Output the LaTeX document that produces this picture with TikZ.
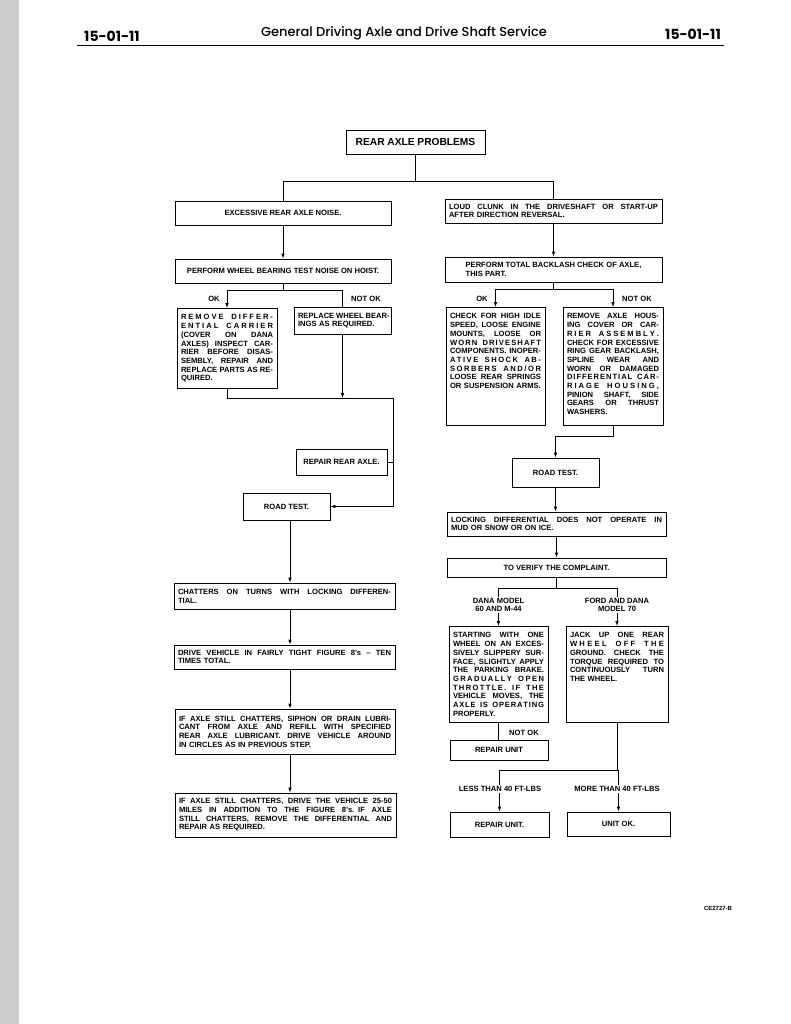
\documentclass[tikz,border=0pt]{standalone}
\usepackage{fontspec}
\setmainfont{Liberation Sans}
\newfontfamily\hdrfont{Poppins}[UprightFont=* Medium, BoldFont=* Bold]
\usetikzlibrary{arrows.meta}

\newlength{\jw}
\newcommand{\bx}{\bfseries\fontsize{7.6}{8.7}\selectfont}
% word-justified line
\newcommand{\jl}[1]{\leavevmode\hbox to \jw{\spaceskip=0.25em plus 1fil\relax #1}}
% letter-spaced justified line
\ExplSyntaxOn
\seq_new:N \l__rs_words_seq
\bool_new:N \l__rs_firstw_bool
\bool_new:N \l__rs_firstl_bool
\cs_new_protected:Npn \__rs_word:n #1
  {
    \bool_set_true:N \l__rs_firstl_bool
    \tl_map_inline:nn {#1}
      {
        \bool_if:NF \l__rs_firstl_bool { \hskip 0pt plus 1fil }
        \bool_set_false:N \l__rs_firstl_bool
        ##1
      }
  }
\NewDocumentCommand{\jlx}{m}
  {
    \leavevmode
    \hbox_to_wd:nn {\jw}
      {
        \seq_set_split:Nnn \l__rs_words_seq {~} {#1}
        \bool_set_true:N \l__rs_firstw_bool
        \seq_map_inline:Nn \l__rs_words_seq
          {
            \bool_if:NF \l__rs_firstw_bool { \hskip 0.25em plus 3fil }
            \bool_set_false:N \l__rs_firstw_bool
            \__rs_word:n {##1}
          }
      }
  }
\ExplSyntaxOff

\begin{document}
\begin{tikzpicture}[
  x=1pt, y=-1pt,
  box/.style={draw, line width=0.8pt, inner sep=4pt, font=\bx},
  jbox/.style={box, text width=#1, align=left, execute at begin node={\global\jw=#1\relax}},
  tall/.style={text height=7.5pt, text depth=#1},
  arrow/.style={-{Latex[length=5pt,width=3.6pt]}, line width=0.8pt},
  link/.style={line width=0.8pt},
  lbl/.style={font=\bx, inner sep=1pt, align=center}
]
  \useasboundingbox (0,0) rectangle (791,1024);
  \fill[black!20] (0,0) rectangle (19,1024);

  % page header
  \node[font=\hdrfont\bfseries\fontsize{14}{16}\selectfont] (pgleft) at (112,36) {15-01-11};
  \node[font=\hdrfont\fontsize{13}{15}\selectfont] (pgtitle) at (404,33) {General Driving Axle and Drive Shaft Service};
  \node[font=\hdrfont\bfseries\fontsize{14}{16}\selectfont] (pgright) at (693,34) {15-01-11};
  \draw[line width=1.4pt] (pgleft.south west) ++(-4,1) coordinate (rl) -- (rl -| pgright.south east);

  % top
  \node[box, font=\bfseries\fontsize{10.2}{12}\selectfont, minimum width=139pt, minimum height=24pt] (title) at (415.5,142) {REAR AXLE PROBLEMS};
  \node[box, minimum width=216pt, minimum height=24pt] (excess) at (283,213) {EXCESSIVE REAR AXLE NOISE.};
  \node[jbox=209pt, minimum height=24pt] (clunk) at (553.5,211) {\jl{LOUD CLUNK IN THE DRIVESHAFT OR START-UP}\\AFTER DIRECTION REVERSAL.};

  % left branch
  \node[box, minimum width=216pt, minimum height=24pt] (wheeltest) at (283,271) {PERFORM WHEEL BEARING TEST NOISE ON HOIST.};
  \node[jbox=92pt, tall=64.5pt, anchor=north] (carrier) at (227,308) {\jlx{REMOVE DIFFER-}\\\jlx{ENTIAL CARRIER}\\\jl{(COVER ON DANA}\\\jl{AXLES) INSPECT CAR-}\\\jl{RIER BEFORE DISAS-}\\\jl{SEMBLY, REPAIR AND}\\\jl{REPLACE PARTS AS RE-}\\QUIRED.};
  \node[jbox=89pt, minimum height=27pt] (bearings) at (342.5,320.5) {\jl{REPLACE WHEEL BEAR-}\\INGS AS REQUIRED.};
  \node[box, minimum width=91pt, minimum height=26pt] (repair) at (341.5,462) {REPAIR REAR AXLE.};
  \node[box, minimum width=87pt, minimum height=27pt] (roadL) at (286.5,506.5) {ROAD TEST.};
  \node[jbox=213pt, minimum height=26pt] (chatter) at (284.5,596) {\jl{CHATTERS ON TURNS WITH LOCKING DIFFEREN-}\\TIAL.};
  \node[jbox=213pt, minimum height=24pt] (figure8) at (284.5,657) {\jl{DRIVE VEHICLE IN FAIRLY TIGHT FIGURE 8's – TEN}\\TIMES TOTAL.};
  \node[jbox=212pt, minimum height=45pt] (siphon) at (285,731.5) {\jl{IF AXLE STILL CHATTERS, SIPHON OR DRAIN LUBRI-}\\\jl{CANT FROM AXLE AND REFILL WITH SPECIFIED}\\\jl{REAR AXLE LUBRICANT. DRIVE VEHICLE AROUND}\\IN CIRCLES AS IN PREVIOUS STEP.};
  \node[jbox=213pt, minimum height=44pt] (miles) at (285.5,815) {\jl{IF AXLE STILL CHATTERS, DRIVE THE VEHICLE 25-50}\\\jl{MILES IN ADDITION TO THE FIGURE 8's. IF AXLE}\\\jl{STILL CHATTERS, REMOVE THE DIFFERENTIAL AND}\\REPAIR AS REQUIRED.};

  % right branch
  \node[box, align=left, minimum width=217pt, minimum height=25pt] (backlash) at (553.5,269.5) {PERFORM TOTAL BACKLASH CHECK OF AXLE,\\THIS PART.};
  \node[jbox=91pt, tall=102.5pt, anchor=north] (idle) at (495.5,307) {\jl{CHECK FOR HIGH IDLE}\\\jl{SPEED, LOOSE ENGINE}\\\jl{MOUNTS, LOOSE OR}\\\jlx{WORN DRIVESHAFT}\\\jl{COMPONENTS. INOPER-}\\\jlx{ATIVE SHOCK AB-}\\\jlx{SORBERS AND/OR}\\\jl{LOOSE REAR SPRINGS}\\OR SUSPENSION ARMS.};
  \node[jbox=92pt, tall=102.5pt, anchor=north] (housing) at (613,307) {\jl{REMOVE AXLE HOUS-}\\\jl{ING COVER OR CAR-}\\\jlx{RIER ASSEMBLY.}\\\jl{CHECK FOR EXCESSIVE}\\\jl{RING GEAR BACKLASH,}\\\jl{SPLINE WEAR AND}\\\jl{WORN OR DAMAGED}\\\jlx{DIFFERENTIAL CAR-}\\\jlx{RIAGE HOUSING,}\\\jl{PINION SHAFT, SIDE}\\\jl{GEARS OR THRUST}\\WASHERS.};
  \node[box, minimum width=87pt, minimum height=29pt] (roadR) at (555.5,472.5) {ROAD TEST.};
  \node[jbox=211pt, minimum height=24pt] (locking) at (556.5,524) {\jl{LOCKING DIFFERENTIAL DOES NOT OPERATE IN}\\MUD OR SNOW OR ON ICE.};
  \node[box, minimum width=219pt, minimum height=19pt] (verify) at (556.5,567.5) {TO VERIFY THE COMPLAINT.};
  \node[jbox=91pt, tall=80.5pt, anchor=north] (starting) at (498.5,626) {\jl{STARTING WITH ONE}\\\jl{WHEEL ON AN EXCES-}\\\jl{SIVELY SLIPPERY SUR-}\\\jl{FACE, SLIGHTLY APPLY}\\\jl{THE PARKING BRAKE.}\\\jlx{GRADUALLY OPEN}\\\jlx{THROTTLE. IF THE}\\\jl{VEHICLE MOVES, THE}\\\jlx{AXLE IS OPERATING}\\PROPERLY.};
  \node[jbox=94pt, tall=80.5pt, anchor=north] (jack) at (617,626) {\jl{JACK UP ONE REAR}\\\jlx{WHEEL OFF THE}\\\jl{GROUND. CHECK THE}\\\jl{TORQUE REQUIRED TO}\\\jl{CONTINUOUSLY TURN}\\THE WHEEL.};
  \node[box, minimum width=98pt, minimum height=20pt] (unit) at (499,750) {REPAIR UNIT};
  \node[box, minimum width=99pt, minimum height=25pt] (repunit) at (499.5,824.5) {REPAIR UNIT.};
  \node[box, minimum width=103pt, minimum height=24pt] (unitok) at (618.5,824) {UNIT OK.};

  \node[lbl, font=\bfseries\fontsize{6}{7}\selectfont] (code) at (718,908) {CE2727-B};

  % connectors, top
  \draw[link] (title.south) -- ++(0,27) coordinate (t1);
  \draw[link] (excess.north) |- (t1) -| (clunk.north);
  \draw[arrow] (excess) -- (wheeltest);
  \draw[arrow] (clunk) -- (backlash);

  % connectors, left
  \draw[link] (wheeltest.south) -- ++(0,7) coordinate (s1);
  \draw[arrow] (s1) -| (carrier.north);
  \draw[link] (s1) -| (bearings.north);
  \node[lbl] (okL) at (214,299) {OK};
  \node[lbl] (notokL) at (366,299) {NOT OK};
  \coordinate (j1) at (393,398);
  \draw[arrow] (carrier.south) |- (j1) |- (roadL.east);
  \draw[arrow] (bearings.south) -- (bearings.south |- j1);
  \draw[link] (repair.east) -- (repair.east -| j1);
  \coordinate (spine) at (290,0);
  \foreach \a/\b in {roadL/chatter, chatter/figure8, figure8/siphon, siphon/miles}
    \draw[arrow] (\a.south -| spine) -- (\b.north -| spine);

  % connectors, right
  \draw[link] (backlash.south) -- ++(0,7) coordinate (s2);
  \draw[arrow] (s2) -| (idle.north);
  \draw[arrow] (s2) -| (housing.north);
  \node[lbl] (okR) at (482,299) {OK};
  \node[lbl] (notokR) at (637,299) {NOT OK};
  \draw[arrow] (housing.south) -- ++(0,11) -| (roadR.north);
  \draw[arrow] (roadR.south) -- (roadR.south |- locking.north);
  \draw[arrow] (locking) -- (verify);
  \draw[link] (verify.south) -- ++(0,11) coordinate (s3);
  \draw[arrow] (s3) -| (starting.north);
  \draw[arrow] (s3) -| (jack.north);
  \node[lbl, fill=white] (dana) at (498.5,605) {DANA MODEL\\60 AND M-44};
  \node[lbl, fill=white] (ford) at (617,605) {FORD AND DANA\\MODEL 70};
  \draw[link] (starting.south) -- (starting.south |- unit.north);
  \node[lbl] (notokS) at (524,733) {NOT OK};
  \draw[link] (jack.south) -- ++(0,48) coordinate (s4);
  \draw[arrow] (s4) -| (repunit.north);
  \draw[arrow] (s4) -| (unitok.north);
  \node[lbl, fill=white] (less) at (500,789) {LESS THAN 40 FT-LBS};
  \node[lbl, fill=white] (more) at (617,789) {MORE THAN 40 FT-LBS};
\end{tikzpicture}
\end{document}
